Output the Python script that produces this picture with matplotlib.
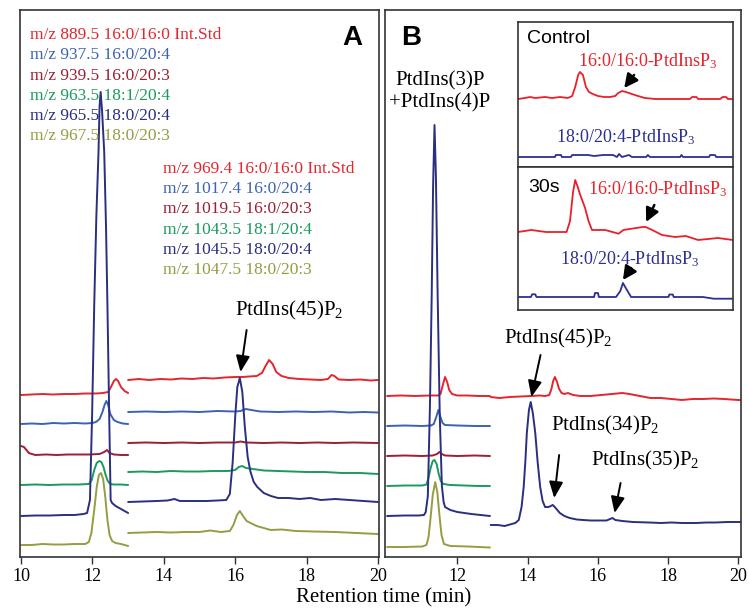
import matplotlib
matplotlib.use("Agg")
import matplotlib.pyplot as plt
import numpy as np

plt.rcParams['font.family'] = ['Liberation Serif', 'DejaVu Serif']
plt.rcParams['mathtext.fontset'] = 'custom'
plt.rcParams['mathtext.rm'] = 'Liberation Serif'
plt.rcParams['mathtext.it'] = 'Liberation Serif:italic'
plt.rcParams['mathtext.bf'] = 'Liberation Serif:bold'

# ---------------------------------------------------------------- channels
species = ["16:0/16:0 Int.Std", "16:0/20:4", "16:0/20:3",
           "18:1/20:4", "18:0/20:4", "18:0/20:3"]
mz_pip = ["889.5", "937.5", "939.5", "963.5", "965.5", "967.5"]
mz_pip2 = ["969.4", "1017.4", "1019.5", "1043.5", "1045.5", "1047.5"]
colors = ["#E3262D", "#3D63B0", "#9C1F33", "#1B9A5E", "#2A2F80", "#979C42"]

# ---------------------------------------------------------------- chromatograms
# (retention time [min], intensity [a.u.]) pairs; panel A, 10-13 min window
a_left_red = [(10.0, 0), (10.3, 0.5), (10.6, 1), (10.9, 0.5), (11.2, 1), (11.5, 1),
              (11.8, 1.5), (12.1, 1.5), (12.3, 2), (12.44, 3), (12.52, 8), (12.6, 14),
              (12.66, 16), (12.72, 14), (12.8, 8), (12.9, 4), (13.0, 2)]
a_left_blue = [(10.0, 0), (10.3, 0.5), (10.6, 0), (10.9, 1), (11.2, 0.5), (11.5, 1),
               (11.8, 0.5), (12.0, 1), (12.1, 2), (12.2, 5), (12.28, 12), (12.34, 19),
               (12.39, 23), (12.44, 19), (12.5, 10), (12.6, 4), (12.7, 2), (12.85, 0.5),
               (13.0, 0)]
a_left_darkred = [(10.0, 9), (10.08, 8), (10.15, 5), (10.22, 2), (10.3, 1), (10.4, 0),
                  (10.7, 0.5), (11.0, 0), (11.3, 0.5), (11.6, 0.5), (11.9, 0.5), (12.2, 1),
                  (12.33, 3), (12.41, 5), (12.48, 2), (12.6, 0.5), (12.8, 0), (13.0, 0)]
a_left_green = [(10.0, 0), (10.4, 0.5), (10.8, 0), (11.2, 0.5), (11.6, 0.5), (11.9, 1),
                (11.98, 5), (12.05, 15), (12.12, 22), (12.19, 24), (12.25, 23), (12.31, 18),
                (12.37, 10), (12.43, 4), (12.5, 1), (12.6, 0.5), (12.8, 0.5), (13.0, 0)]
a_left_navy = [(10.0, 0), (10.4, 0.5), (10.8, 0.5), (11.2, 1), (11.5, 1), (11.75, 2),
               (11.85, 3), (11.93, 16), (11.99, 100), (12.05, 211), (12.11, 300),
               (12.17, 364), (12.2, 410), (12.23, 424), (12.27, 405), (12.33, 364),
               (12.38, 290), (12.42, 211), (12.47, 100), (12.51, 16), (12.55, 13),
               (12.65, 10), (12.75, 8), (12.85, 6), (12.95, 4), (13.0, 3)]
a_left_olive = [(10.0, 0), (10.3, 0), (10.6, 1), (10.9, 0.5), (11.2, 0.5), (11.5, 1),
                (11.8, 1), (11.9, 3), (11.97, 12), (12.05, 35), (12.12, 58), (12.18, 70),
                (12.24, 72), (12.3, 66), (12.36, 48), (12.42, 25), (12.48, 10), (12.55, 4),
                (12.65, 2), (12.8, 1), (12.9, 0), (13.0, -1)]

# panel A, 13-20 min window
a_right_red = [(13.0, 0), (13.3, 1), (13.6, 0), (13.9, 1), (14.2, 0.5), (14.5, 1.5),
               (14.8, 1), (15.1, 2), (15.4, 1.5), (15.7, 2.5), (16.0, 3), (16.2, 3),
               (16.4, 3.5), (16.6, 4), (16.75, 7), (16.85, 14), (16.95, 20), (17.05, 16),
               (17.15, 8), (17.3, 4), (17.5, 2), (17.8, 1), (18.1, 0.5), (18.4, 0),
               (18.6, 1), (18.7, 5), (18.78, 4), (18.9, 0.5), (19.2, 0), (19.5, 0.5),
               (19.8, -0.5), (20.0, 0)]
a_right_blue = [(13.0, 0), (13.5, 0.5), (14.0, 0), (14.5, 0.5), (15.0, 0), (15.5, 1),
                (16.0, 0.5), (16.15, 1), (16.3, 3), (16.45, 2), (16.7, 0.5), (17.2, 0),
                (17.7, 0.5), (18.2, 0), (18.7, 0.5), (19.2, -0.5), (19.6, 0), (20.0, -0.5)]
a_right_darkred = [(13.0, 0), (13.5, 0.5), (14.0, 0), (14.5, 0.5), (15.0, 0), (15.5, 0.5),
                   (16.0, 0.5), (16.15, 1.5), (16.3, 0.5), (16.8, 0), (17.3, 0.5),
                   (17.8, 0), (18.3, 0.5), (18.8, 0), (19.3, 0.5), (20.0, 0)]
a_right_green = [(13.0, 0), (13.4, 0.5), (13.8, 0), (14.2, 1), (14.6, 0.5), (15.0, 0.5),
                 (15.4, 1), (15.8, 1), (16.0, 2), (16.1, 5), (16.2, 6), (16.3, 4),
                 (16.5, 3), (16.8, 1.5), (17.2, 1), (17.6, 0.5), (18.0, 0), (18.5, 0),
                 (19.0, -1), (19.5, -1), (20.0, -2)]
a_right_navy = [(13.0, 0), (13.4, 0.5), (13.8, 1), (14.1, 1.5), (14.3, 3), (14.45, 1),
                (14.8, 1), (15.2, 1), (15.5, 1.5), (15.75, 2), (15.85, 8), (15.93, 40),
                (16.0, 85), (16.06, 115), (16.13, 124), (16.2, 110), (16.27, 75),
                (16.35, 45), (16.43, 30), (16.52, 20), (16.62, 15), (16.8, 9), (17.0, 6),
                (17.2, 4), (17.5, 4), (17.8, 3), (18.1, 4), (18.4, 2), (18.8, 3),
                (19.2, 2), (19.6, 1), (20.0, 0)]
a_right_olive = [(13.0, 0), (13.4, 0.5), (13.8, 1), (14.2, 0.5), (14.6, 1), (15.0, 1),
                 (15.3, 2.5), (15.6, 1), (15.85, 2), (15.95, 8), (16.05, 18), (16.13, 22),
                 (16.22, 17), (16.32, 12), (16.43, 10), (16.6, 7), (16.8, 5), (17.0, 3),
                 (17.3, 3.5), (17.7, 2), (18.2, 1.5), (18.8, 1), (19.4, 0), (20.0, -1)]

# panel B, 10-13 min window
b_left_red = [(10.0, 0), (10.4, 0.5), (10.8, 0), (11.2, 0.5), (11.45, 0.5), (11.52, 2),
              (11.58, 10), (11.65, 19), (11.71, 14), (11.77, 6), (11.85, 2), (12.0, 0.5),
              (12.3, 0.5), (12.6, 0), (12.93, 0)]
b_left_blue = [(10.0, 0), (10.5, 0.5), (11.0, 0), (11.25, 0.5), (11.33, 2), (11.4, 9),
               (11.46, 16), (11.52, 9), (11.58, 3), (11.65, 1), (12.0, 0.5), (12.5, 0),
               (12.93, 0)]
b_left_darkred = [(10.0, 0), (10.5, 0.5), (11.0, 0), (11.3, 0.5), (11.42, 2), (11.49, 4),
                  (11.56, 2), (11.65, 0.5), (12.0, 0), (12.5, 0.5), (12.93, 0)]
b_left_green = [(10.0, 0), (10.5, 0.5), (11.0, 0.5), (11.12, 1.5), (11.18, 8), (11.24, 18),
                (11.3, 25), (11.35, 26), (11.41, 22), (11.47, 12), (11.53, 5), (11.6, 2),
                (11.8, 1), (12.2, 0.5), (12.6, 0), (12.93, 0)]
b_left_navy = [(10.0, 0), (10.5, 0.5), (10.9, 0.5), (11.05, 1), (11.1, 4), (11.16, 20),
               (11.22, 110), (11.27, 220), (11.31, 330), (11.35, 391), (11.39, 340),
               (11.44, 220), (11.5, 100), (11.56, 30), (11.61, 14), (11.65, 9),
               (11.8, 6), (12.0, 4), (12.4, 2), (12.93, 0)]
b_left_olive = [(10.0, 0), (10.5, 0), (11.0, 0.5), (11.12, 2), (11.18, 10), (11.24, 30),
                (11.3, 52), (11.37, 65), (11.43, 55), (11.49, 32), (11.55, 12), (11.62, 3),
                (11.8, 1), (12.3, 0.5), (12.93, -0.5)]

# panel B, 13-20 min window
b_right_red = [(12.95, 0), (13.2, -1), (13.5, 0), (13.8, 0.5), (14.1, 1), (14.35, 1.5),
               (14.5, 1), (14.62, 2), (14.68, 8), (14.73, 16), (14.78, 20), (14.84, 15),
               (14.9, 8), (14.97, 4), (15.05, 3), (15.15, 4), (15.3, 2), (15.5, 1),
               (15.8, 1), (16.1, 2), (16.4, 3), (16.7, 4), (16.9, 3), (17.2, 1),
               (17.5, -1), (17.8, -1), (18.1, -2), (18.4, -3), (18.7, -2), (19.0, -2),
               (19.3, -1.5), (19.6, -2), (20.0, -3), (20.08, -3)]
b_right_navy = [(12.95, 0), (13.15, 0), (13.35, -1), (13.55, 1), (13.65, 2), (13.75, 5),
                (13.83, 18), (13.89, 38), (13.94, 65), (13.98, 92), (14.04, 115),
                (14.09, 123), (14.15, 112), (14.22, 92), (14.29, 62), (14.36, 38),
                (14.43, 24), (14.5, 18), (14.6, 18), (14.72, 20), (14.8, 17), (14.92, 12),
                (15.05, 9), (15.2, 7), (15.4, 5.5), (15.58, 5), (15.8, 4.5), (16.0, 4.5),
                (16.25, 4.5), (16.42, 7), (16.5, 5), (16.7, 4), (17.0, 3), (17.46, 2.5),
                (17.8, 2), (18.1, 2.5), (18.4, 2), (18.8, 2), (19.1, 2.5), (19.35, 2.5),
                (19.7, 3), (20.08, 3)]

# PtdInsP3 insets (control / 30 s stimulation)
ctrl_red = [(14.00, 0), (14.16, 1), (14.28, 2), (14.40, 1), (14.63, 2), (14.79, 1),
            (14.98, 2), (15.16, 1), (15.26, 3), (15.33, 12), (15.40, 24), (15.44, 27),
            (15.51, 24), (15.58, 12), (15.65, 7), (15.74, 5), (15.86, 3), (16.00, 2),
            (16.14, 2), (16.26, 3), (16.33, 6), (16.42, 8), (16.51, 7), (16.65, 5),
            (16.79, 3), (16.95, 1), (17.19, 0), (17.77, 0), (18.00, 0), (18.05, 2),
            (18.15, 2), (18.19, 0), (18.70, 0), (18.76, 2), (18.84, 2), (18.88, 0),
            (19.00, 0)]
ctrl_blue = [(14.00, 0), (14.86, 0), (14.88, 2), (15.00, 2), (15.02, 0), (15.23, 0),
             (15.26, 2), (15.63, 2), (15.77, 1), (15.98, 2), (16.21, 2), (16.30, 0),
             (16.35, 3), (16.42, 0), (16.58, 2), (16.65, 0), (16.98, 0), (17.02, 2),
             (17.07, 0), (17.77, 0), (17.80, 2), (17.84, 0), (18.44, 0), (18.47, 2),
             (18.58, 2), (18.61, 0), (19.00, 0)]
s30_red = [(14.00, 0), (14.31, 2), (14.65, 0), (15.13, 0), (15.21, 11), (15.28, 40),
           (15.33, 52), (15.39, 45), (15.44, 38), (15.56, 24), (15.64, 11), (15.72, 2),
           (16.03, 2), (16.34, -1.7), (16.45, 2), (16.81, 4.4), (16.9, 5), (16.97, 5),
           (17.12, 2), (17.35, -3), (17.65, -5), (17.9, -4), (18.19, -8), (18.65, -6),
           (19.00, -8)]
s30_blue = [(14.00, 0), (14.3, 0), (14.33, 2.7), (14.4, 2.7), (14.43, 0), (15.77, 0),
            (15.79, 4), (15.86, 4), (15.88, 0), (16.28, 0), (16.38, 6), (16.44, 14),
            (16.52, 8), (16.63, 0), (17.5, 0), (17.52, 2.5), (17.6, 2.5), (17.62, 0),
            (18.3, 0), (18.55, -1.7), (19.00, -1.7)]

a_left = [a_left_red, a_left_blue, a_left_darkred, a_left_green, a_left_navy, a_left_olive]
a_right = [a_right_red, a_right_blue, a_right_darkred, a_right_green, a_right_navy,
           a_right_olive]
b_left = [b_left_red, b_left_blue, b_left_darkred, b_left_green, b_left_navy, b_left_olive]

xticks_a = [10, 12, 14, 16, 18, 20]
xticks_b = [12, 14, 16, 18, 20]

# ---------------------------------------------------------------- figure
W, H = 749, 615
fig = plt.figure(figsize=(W / 100, H / 100), dpi=100)


def fig_rect(x0, y0, x1, y1):
    return [x0 / W, 1 - y1 / H, (x1 - x0) / W, (y1 - y0) / H]


axA = fig.add_axes(fig_rect(20, 10, 379, 557))
axB = fig.add_axes(fig_rect(385, 10, 741, 557))
axA.set_xlim(9.97, 20.03)
axB.set_xlim(9.94, 20.08)
for ax in (axA, axB):
    ax.set_ylim(0, 547)
    ax.set_yticks([])
    for s in ax.spines.values():
        s.set_linewidth(1.2)
        s.set_color('#333333')
    ax.tick_params(axis='x', direction='out', length=5, width=1.0, labelsize=13,
                   pad=3, color='#333333')
axA.set_xticks(xticks_a)
axB.set_xticks(xticks_b)

LW = 1.4


def trace(ax, pts, base, color, lw=LW):
    arr = np.array(pts, dtype=float)
    ax.plot(arr[:, 0], arr[:, 1] + base, color=color, lw=lw,
            solid_joinstyle='round', solid_capstyle='round')


# vertical stacking of the six channels
a_left_base = [162, 133, 102, 72, 41, 12]
a_right_base = [177, 145, 114, 85, 55, 24]
b_left_base = [161, 131, 101, 71, 41, 10]

for pts, base, c in zip(a_left, a_left_base, colors):
    trace(axA, pts, base, c)
for pts, base, c in zip(a_right, a_right_base, colors):
    trace(axA, pts, base, c)
for pts, base, c in zip(b_left, b_left_base, colors):
    trace(axB, pts, base, c)
trace(axB, b_right_red, 160, colors[0])
trace(axB, b_right_navy, 32, colors[4])

# channel labels
for i, (mz, sp, c) in enumerate(zip(mz_pip, species, colors)):
    axA.text(10.25, 522 - 20.3 * i, f"m/z {mz} {sp}", color=c, fontsize=12.5,
             va='center', ha='left')
for i, (mz, sp, c) in enumerate(zip(mz_pip2, species, colors)):
    axA.text(13.98, 388 - 20.2 * i, f"m/z {mz} {sp}", color=c, fontsize=12.5,
             va='center', ha='left')

sans = ['Liberation Sans', 'DejaVu Sans']
axA.text(19.27, 519, "A", family=sans, fontweight='bold', fontsize=20,
         ha='center', va='center')
axB.text(10.68, 519, "B", family=sans, fontweight='bold', fontsize=20,
         ha='center', va='center')

arrow_main = dict(arrowstyle='-|>,head_length=0.7,head_width=0.3', color='black',
                  lw=1.4, shrinkA=0, shrinkB=0, mutation_scale=14)


def label_arrow(ax, text, txy, tail, tip, fs=15):
    ax.text(txy[0], txy[1], text, fontsize=fs, ha='center', va='center')
    ax.annotate('', xy=tip, xytext=tail, arrowprops=arrow_main)


label_arrow(axA, r"PtdIns(45)P$_2$", (17.5, 247), (16.32, 227), (16.15, 185))
label_arrow(axB, r"PtdIns(45)P$_2$", (14.87, 219), (14.37, 202), (14.11, 160))
label_arrow(axB, r"PtdIns(34)P$_2$", (16.2, 132), (14.9, 102), (14.76, 59))
label_arrow(axB, r"PtdIns(35)P$_2$", (17.35, 97), (16.65, 74), (16.48, 44))
axB.text(11.5, 465, "PtdIns(3)P\n+PtdIns(4)P", fontsize=15, ha='center',
         va='center', linespacing=1.15)

# ---------------------------------------------------------------- insets
inset_top = fig.add_axes(fig_rect(518, 22, 733, 167))
inset_bot = fig.add_axes(fig_rect(518, 167, 733, 310))
inset_top.set_ylim(0, 145)
inset_bot.set_ylim(0, 143)
for ax in (inset_top, inset_bot):
    ax.set_xlim(14.0, 19.0)
    ax.set_xticks([])
    ax.set_yticks([])
    for s in ax.spines.values():
        s.set_linewidth(1.2)
        s.set_color('#333333')

red_in = "#E8202A"
blue_in = "#2B2F8F"
trace(inset_top, ctrl_red, 68, red_in, lw=1.3)
trace(inset_top, ctrl_blue, 10, blue_in, lw=1.3)
trace(inset_bot, s30_red, 78, red_in, lw=1.3)
trace(inset_bot, s30_blue, 13, blue_in, lw=1.3)

inset_top.text(14.2, 128, "Control", family=sans, fontsize=14, ha='left', va='center')
inset_bot.text(14.23, 122, "30s", family=sans, fontsize=14, ha='left', va='center')
inset_top.text(17.02, 106, r"16:0/16:0-PtdInsP$_3$", color=red_in, fontsize=13,
               ha='center', va='center')
inset_top.text(16.51, 30, r"18:0/20:4-PtdInsP$_3$", color=blue_in, fontsize=13,
               ha='center', va='center')
inset_bot.text(17.24, 121, r"16:0/16:0-PtdInsP$_3$", color=red_in, fontsize=13,
               ha='center', va='center')
inset_bot.text(16.6, 51, r"18:0/20:4-PtdInsP$_3$", color=blue_in, fontsize=13,
               ha='center', va='center')

arrow_small = dict(arrowstyle='-|>,head_length=0.9,head_width=0.45', color='black',
                   lw=1.8, shrinkA=0, shrinkB=0, mutation_scale=9)
inset_top.annotate('', xy=(16.47, 79), xytext=(16.7, 92), arrowprops=arrow_small)
inset_bot.annotate('', xy=(16.98, 88), xytext=(17.17, 105), arrowprops=arrow_small)
inset_bot.annotate('', xy=(16.44, 30), xytext=(16.63, 42), arrowprops=arrow_small)

fig.text(384 / W, 1 - 598 / H, "Retention time (min)", fontsize=15,
         ha='center', va='center')

fig.savefig("out.png", dpi=100)
